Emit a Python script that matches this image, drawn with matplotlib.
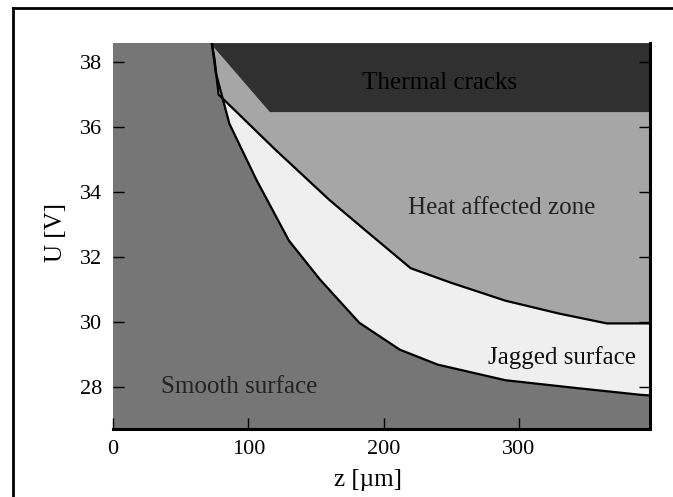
import numpy as np
import matplotlib
matplotlib.use('Agg')
import matplotlib.pyplot as plt
from matplotlib.lines import Line2D

plt.rcParams['font.family'] = ['Liberation Serif', 'DejaVu Serif']

# upper boundary of the jagged surface zone (heat affected zone above it)
z_upper = [73, 75, 78, 120, 160, 187, 220, 250, 290, 330, 365, 397]
u_upper = [38.58, 38.1, 37.0, 35.3, 33.75, 32.8, 31.65, 31.2, 30.65, 30.25, 29.95, 29.95]

# lower boundary of the jagged surface zone (smooth surface below it)
z_lower = [73, 76, 86, 106, 130, 153, 182, 212, 240, 290, 340, 390, 397]
u_lower = [38.58, 37.66, 36.1, 34.37, 32.5, 31.3, 29.97, 29.14, 28.68, 28.2, 27.97, 27.75, 27.73]

# thermal cracks corner points
z_cracks = [72, 116, 397]
u_cracks = [38.58, 36.46, 36.46]

x_ticks = [0, 100, 200, 300]
y_ticks = [28, 30, 32, 34, 36, 38]
z_max, u_min, u_max = 397, 26.7, 38.58

c_smooth = '#767676'
c_heat = '#a6a6a6'
c_jagged = '#efefef'
c_cracks = '#303030'

fig = plt.figure(figsize=(6.73, 4.97), dpi=100)
ax = fig.add_axes([0.168, 0.137, 0.798, 0.776])
ax.set_facecolor(c_smooth)

# heat affected zone: between cracks boundary and upper curve
hz = z_cracks + [z_max] + z_upper[::-1]
hu = u_cracks + [u_upper[-1]] + u_upper[::-1]
ax.fill(hz, hu, color=c_heat, lw=0)

# jagged surface: between the two curves
jz = z_upper + z_lower[::-1]
ju = u_upper + u_lower[::-1]
ax.fill(jz, ju, color=c_jagged, lw=0)

# thermal cracks band
ax.fill(z_cracks + [z_max], u_cracks + [u_max], color=c_cracks, lw=0)

ax.plot(z_upper, u_upper, color='black', lw=1.6)
ax.plot(z_lower, u_lower, color='black', lw=1.6)

ax.text(241, 37.35, 'Thermal cracks', fontsize=18, ha='center', va='center', color='black')
ax.text(287, 33.5, 'Heat affected zone', fontsize=18, ha='center', va='center', color='#222222')
ax.text(332, 28.9, 'Jagged surface', fontsize=18, ha='center', va='center', color='#111111')
ax.text(93, 28.0, 'Smooth surface', fontsize=18, ha='center', va='center', color='#222222')

ax.set_xlim(0, z_max)
ax.set_ylim(u_min, u_max)
ax.set_xticks(x_ticks)
ax.set_yticks(y_ticks)
ax.tick_params(direction='in', length=8, width=1, labelsize=16, top=False, right=True, pad=8)
ax.set_xlabel('z [µm]', fontsize=18)
ax.set_ylabel('U [V]', fontsize=18)
ax.xaxis.set_label_coords(0.475, -0.105)
ax.yaxis.set_label_coords(-0.085, 0.51)

for side in ['top', 'left']:
    ax.spines[side].set_visible(False)
for side in ['bottom', 'right']:
    ax.spines[side].set_linewidth(2.2)

# outer frame (left and top edges)
fx = 13 / 673
fy = 1 - 8 / 497
fig.add_artist(Line2D([fx, fx], [0, fy], transform=fig.transFigure, color='black', lw=2))
fig.add_artist(Line2D([fx, 1], [fy, fy], transform=fig.transFigure, color='black', lw=2))

fig.savefig('out.png', dpi=100)
